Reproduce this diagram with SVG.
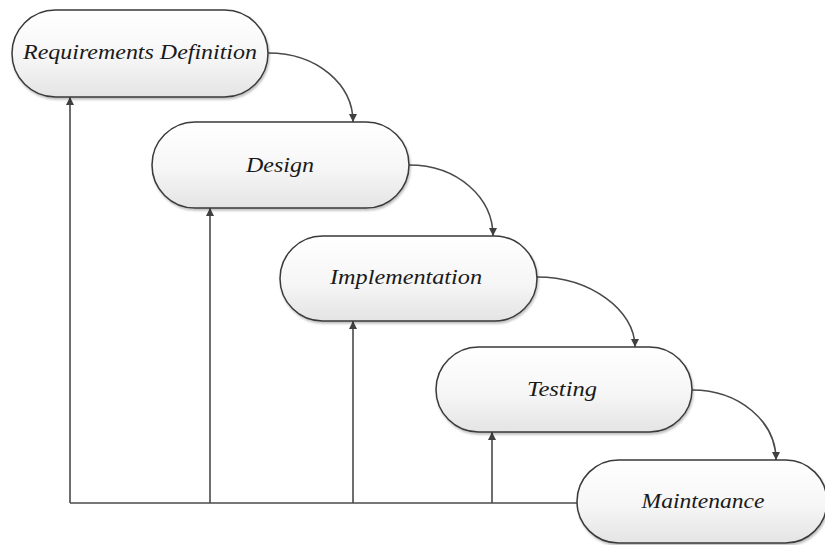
<svg xmlns="http://www.w3.org/2000/svg" width="825" height="545" viewBox="0 0 825 545">
<defs>
<linearGradient id="fillg" x1="0" y1="0" x2="0" y2="1">
<stop offset="0" stop-color="#ffffff"/>
<stop offset="0.55" stop-color="#f6f6f6"/>
<stop offset="1" stop-color="#e4e4e4"/>
</linearGradient>
<filter id="sh" x="-5%" y="-5%" width="110%" height="120%">
<feDropShadow dx="1" dy="2" stdDeviation="1.2" flood-color="#000" flood-opacity="0.25"/>
</filter>
<marker id="ah" viewBox="0 0 10 10" refX="10" refY="5" markerWidth="8" markerHeight="8" markerUnits="userSpaceOnUse" orient="auto">
<path d="M0,0 L10,5 L0,10 z" fill="#404040"/>
</marker>
</defs>
<style>
.node rect{fill:url(#fillg);stroke:#3a3a3a;stroke-width:1.5;filter:url(#sh)}
.node text{font-family:"Liberation Serif","Times New Roman",serif;font-style:italic;font-size:20px;fill:#1a1a1a;text-anchor:middle}
.conn path{fill:none;stroke:#4a4a4a;stroke-width:1.6}
</style>
<rect width="825" height="545" fill="#ffffff"/>
<g class="conn">
<path d="M70,503 H577"/>
<path d="M70,503 V97" marker-end="url(#ah)"/>
<path d="M210,503 V208" marker-end="url(#ah)"/>
<path d="M353,503 V321" marker-end="url(#ah)"/>
<path d="M492,503 V432" marker-end="url(#ah)"/>
<path d="M268,53 C318,53 353,85 353,122" marker-end="url(#ah)"/>
<path d="M409,165 C458,165 493,198 493,236" marker-end="url(#ah)"/>
<path d="M537,277 C590,277 635,310 635,347" marker-end="url(#ah)"/>
<path d="M692,390 C740,390 776,422 776,460" marker-end="url(#ah)"/>
</g>
<g id="n1" class="node">
<rect x="12" y="10" width="256" height="87" rx="43.5"/>
<text x="140" y="59" textLength="234" lengthAdjust="spacingAndGlyphs">Requirements Definition</text>
</g>
<g id="n2" class="node">
<rect x="152" y="122" width="257" height="86" rx="43"/>
<text x="280" y="172" textLength="68" lengthAdjust="spacingAndGlyphs">Design</text>
</g>
<g id="n3" class="node">
<rect x="280" y="236" width="257" height="85" rx="42.5"/>
<text x="406" y="284" textLength="152" lengthAdjust="spacingAndGlyphs">Implementation</text>
</g>
<g id="n4" class="node">
<rect x="436" y="347" width="256" height="85" rx="42.5"/>
<text x="562" y="396" textLength="70" lengthAdjust="spacingAndGlyphs">Testing</text>
</g>
<g id="n5" class="node">
<rect x="577" y="460" width="250" height="83" rx="41.5"/>
<text x="703" y="508" textLength="123" lengthAdjust="spacingAndGlyphs">Maintenance</text>
</g>
</svg>
